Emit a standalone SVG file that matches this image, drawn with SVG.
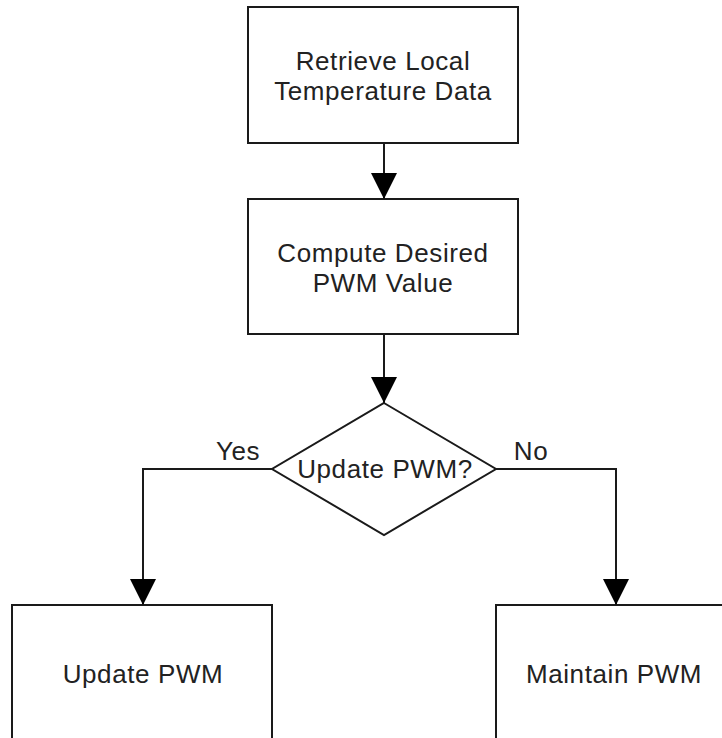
<svg xmlns="http://www.w3.org/2000/svg" width="722" height="738" viewBox="0 0 722 738">
<style>
.box{fill:#fff;stroke:#1a1a1a;stroke-width:2}
.lbl{font-family:"Liberation Sans",Arial,sans-serif;font-size:26px;letter-spacing:0.6px;fill:#222;text-anchor:middle}
.edge{fill:none;stroke:#1a1a1a;stroke-width:2}
</style>
<defs>
<marker id="arr" markerUnits="userSpaceOnUse" markerWidth="28" markerHeight="28" viewBox="0 0 28 28" refX="26" refY="14" orient="auto">
<path d="M0,1 L26,14 L0,27 Z" fill="#000"/>
</marker>
</defs>
<rect width="722" height="738" fill="#fff"/>
<g id="n1">
<rect class="box" x="248" y="7" width="270" height="136"/>
<text class="lbl" x="383" y="70">Retrieve Local</text>
<text class="lbl" x="383" y="100">Temperature Data</text>
</g>
<g id="n2">
<rect class="box" x="248" y="199" width="270" height="135"/>
<text class="lbl" x="383" y="262">Compute Desired</text>
<text class="lbl" x="383" y="292">PWM Value</text>
</g>
<g id="n3">
<polygon class="box" points="384,403 496,469 384,535 272,469"/>
<text class="lbl" x="385" y="478">Update PWM?</text>
</g>
<g id="n4">
<rect class="box" x="12" y="605" width="260" height="160"/>
<text class="lbl" x="143" y="683">Update PWM</text>
</g>
<g id="n5">
<rect class="box" x="496" y="605" width="240" height="160"/>
<text class="lbl" x="614" y="683">Maintain PWM</text>
</g>
<g id="connectors">
<path class="edge" d="M384,143 L384,199" marker-end="url(#arr)"/>
<path class="edge" d="M384,334 L384,403" marker-end="url(#arr)"/>
<path class="edge" d="M272,469 L143,469 L143,605" marker-end="url(#arr)"/>
<path class="edge" d="M496,469 L616,469 L616,605" marker-end="url(#arr)"/>
<text class="lbl" x="238" y="460">Yes</text>
<text class="lbl" x="531" y="460">No</text>
</g>
</svg>
